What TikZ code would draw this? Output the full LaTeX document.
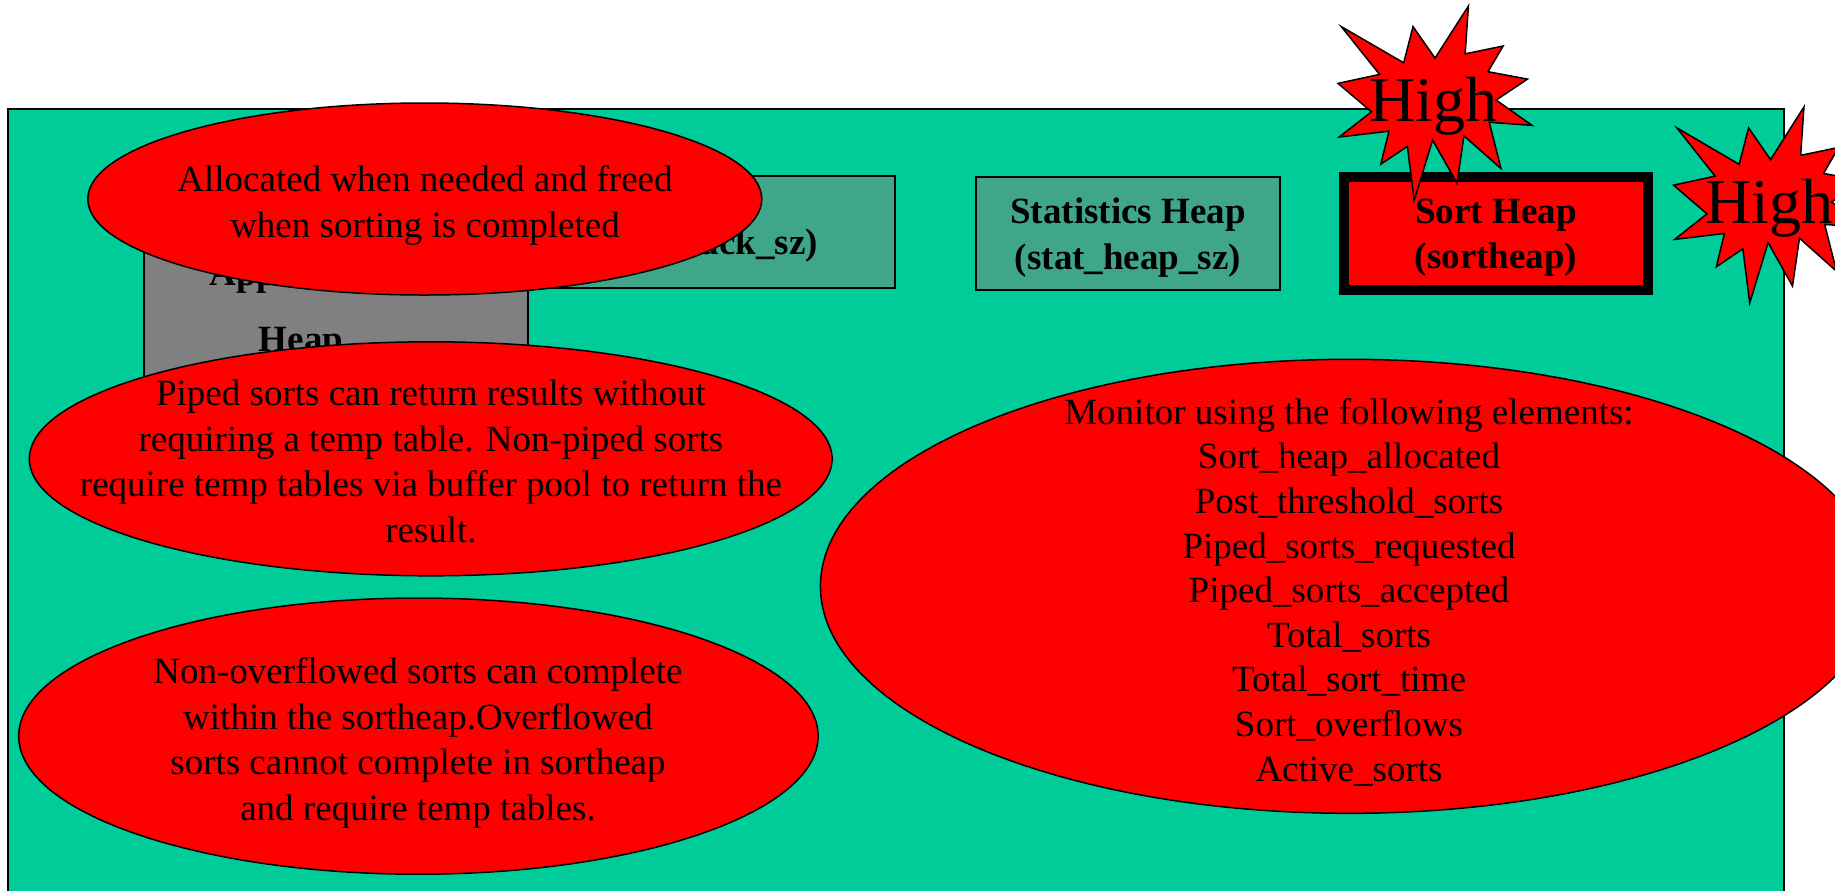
\documentclass[tikz,border=0pt]{standalone}
\usepackage{fontspec}
\setmainfont{Liberation Serif}
\usetikzlibrary{shapes.geometric}

\definecolor{panelgreen}{RGB}{0,204,153}
\definecolor{heapteal}{RGB}{64,166,138}
\definecolor{heapgray}{RGB}{128,128,128}
\definecolor{alertred}{RGB}{255,0,0}

\newcommand\bodyfont{\fontsize{18.5}{22.75}\selectfont}
\newcommand\listfont{\fontsize{18.5}{22.3}\selectfont}
\newcommand\bodybold{\fontsize{18.5}{22.75}\selectfont\bfseries}

\tikzset{
  bubble/.style={ellipse, draw=black, line width=0.75pt, fill=alertred, inner sep=0pt},
  memblock/.style={rectangle, draw=black, line width=1pt, inner sep=0pt, align=center,
    font=\bodybold, text depth=0pt},
  note/.style={align=center, inner sep=0pt, font=\bodyfont},
  boldnote/.style={align=center, inner sep=0pt, font=\bodybold},
  burst/.style={draw=black, line width=0.75pt, fill=alertred, line join=miter},
  shout/.style={inner sep=0pt, font=\fontsize{32}{38}\selectfont, anchor=base}
}

% twelve-point explosion inside a box of w x h starting at (x0,y0)
\newcommand\explosion[4]{%
  \begin{scope}[shift={(#1,#2)},xscale=#3/100,yscale=#4/100]
    \draw[burst] (50,26.85) -- (67.23,0) -- (65.53,24.65) -- (85.09,20.63)
      -- (77.32,33.87) -- (97.67,37.67) -- (81.51,48.50) -- (100,61.53)
      -- (77.95,59.92) -- (84.00,83.77) -- (64.91,66.93) -- (61.33,91.38)
      -- (48.76,69.14) -- (39.28,100) -- (35.72,72.35) -- (22.05,81.56)
      -- (26.24,64.52) -- (0.625,67.53) -- (17.23,54.51) -- (0,39.88)
      -- (21.42,35.26) -- (1.71,10.63) -- (33.85,29.26) -- (38.67,10.63)
      -- cycle;
  \end{scope}}

\begin{document}
\begin{tikzpicture}[x=0.5pt,y=-0.5pt]
  \useasboundingbox (0,0) rectangle (1835,890);
  \clip (0,0) rectangle (1835,890);
  \fill[white] (0,0) rectangle (1835,890);

  % memory area
  \draw[fill=panelgreen, draw=black, line width=1pt] (8,109) rectangle (1784,900);

  % heaps
  \node[memblock, fill=heapgray, minimum width=192pt, minimum height=122pt] (applheap) at (336,298) {};
  \node[boldnote, anchor=base west] (appname) at (209,285) {Application};
  \node[boldnote, anchor=base west] (appheap) at (258.5,351) {Heap};

  \node[memblock, fill=heapteal, minimum width=207.5pt, minimum height=56pt] (agentstack) at (687.5,232) {};
  \node[boldnote, anchor=base east] (agentname) at (758,211.2) {Agent Stack};
  \node[boldnote, anchor=base] (agentparam) at (687.5,254.5) {(agent\_stack\_sz)};

  \node[memblock, fill=heapteal, minimum width=152pt, minimum height=56.5pt] (statheap) at (1128,233.5)
    {Statistics Heap\\(stat\_heap\_sz)};
  \node[memblock, fill=alertred, line width=5pt, minimum width=151.6pt, minimum height=56.15pt] (sortheap) at (1496,233.5)
    {Sort Heap\\(sortheap)};

  % call-outs
  \node[bubble, minimum width=337pt, minimum height=96pt] (allocnote) at (424.8,199) {};
  \node[note] (alloctext) at (425,205.5) {Allocated when needed and freed\\when sorting is completed};

  \node[bubble, minimum width=401.4pt, minimum height=117pt] (pipednote) at (430.7,458.8) {};
  \node[note] (pipedtext) at (431,461.5) {Piped sorts can return results without\\requiring a temp table. Non-piped sorts\\require temp tables via buffer pool to return the\\result.};

  \node[bubble, minimum width=399.7pt, minimum height=138.1pt] (overflownote) at (418.4,736.1) {};
  \node[note] (overflowtext) at (418,743) {Non-overflowed sorts can complete\\within the sortheap.Overflowed\\sorts cannot complete in sortheap\\and require temp tables.};

  \node[bubble, minimum width=529pt, minimum height=227pt] (monitornote) at (1349.4,586.3) {};
  \node[note, font=\listfont] (monitortext) at (1349,592) {Monitor using the following elements:\\Sort\_heap\_allocated\\Post\_threshold\_sorts\\Piped\_sorts\_requested\\Piped\_sorts\_accepted\\Total\_sorts\\Total\_sort\_time\\Sort\_overflows\\Active\_sorts};

  % warnings
  \explosion{1338}{6}{194}{194}
  \node[shout] (highsort) at (1433.5,121.7) {High};
  \explosion{1673.5}{107}{194}{196}
  \node[shout] (highspill) at (1769.7,223.3) {High};
\end{tikzpicture}
\end{document}
